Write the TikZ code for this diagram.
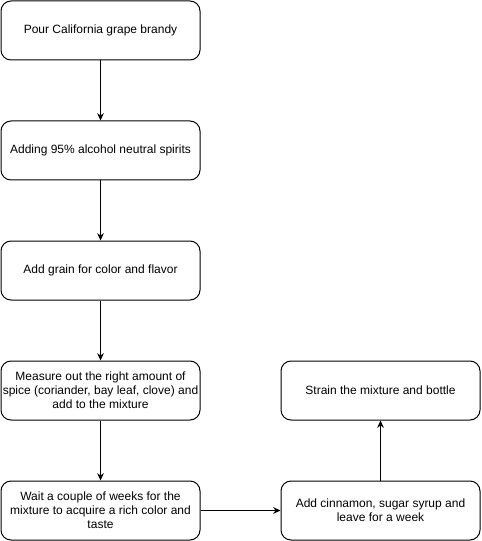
\documentclass[tikz,border=0pt]{standalone}
\usepackage{fontspec}
\setmainfont{Liberation Sans}
\usetikzlibrary{positioning,arrows.meta}

\tikzset{stepbox/.style={draw,rounded corners=7.5pt,line width=.75pt,minimum width=149.25pt,minimum height=44.25pt,align=center,font=\fontsize{9}{10.5}\selectfont,inner sep=1pt}}

\begin{document}
\begin{tikzpicture}[>={Stealth[length=5.5pt,width=5pt]},x=.75pt,y=-.75pt,line width=.75pt]
\useasboundingbox (0,0) rectangle (481,541);
\node[stepbox](pour) at (100.5,30.5){Pour California grape brandy};
\node[stepbox](spirit) at (100.5,150.5){Adding 95\% alcohol neutral spirits};
\node[stepbox](grain) at (100.5,270.5){Add grain for color and flavor};
\node[stepbox](spice) at (100.5,390.5){Measure out the right amount of\\spice (coriander, bay leaf, clove) and\\add to the mixture};
\node[stepbox](wait) at (100.5,510.5){Wait a couple of weeks for the\\mixture to acquire a rich color and\\taste};
\node[stepbox](cinn) at (380.5,510.5){Add cinnamon, sugar syrup and\\leave for a week};
\node[stepbox](strain) at (380.5,390.5){Strain the mixture and bottle};
\draw[->](pour)--(spirit);
\draw[->](spirit)--(grain);
\draw[->](grain)--(spice);
\draw[->](spice)--(wait);
\draw[->](wait)--(cinn);
\draw[->](cinn)--(strain);
\end{tikzpicture}
\end{document}
